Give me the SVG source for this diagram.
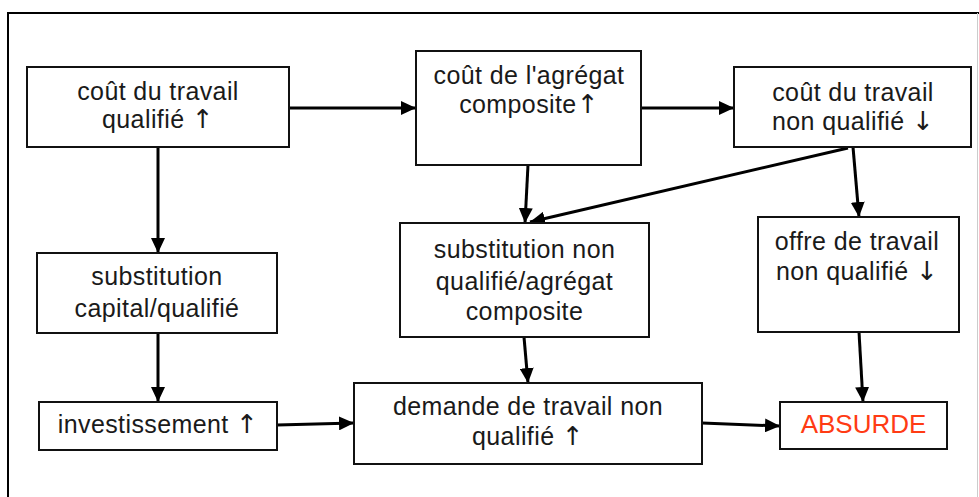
<svg xmlns="http://www.w3.org/2000/svg" width="979" height="497" viewBox="0 0 979 497">
  <defs>
    <marker id="arrow" markerUnits="userSpaceOnUse" markerWidth="15" markerHeight="14" refX="15" refY="7" orient="auto">
      <path d="M0,0 L15,7 L0,14 z" fill="#000"/>
    </marker>
    <style>
      .box { fill: #fff; stroke: #111; stroke-width: 2; }
      .lbl { font-family: "Liberation Sans", Arial, sans-serif; font-size: 25px; letter-spacing: 0.4px; fill: #1a1a1a; text-anchor: middle; }
      .sym { font-family: "DejaVu Sans", sans-serif; font-size: 26px; fill: #1a1a1a; }
      .red { fill: #ff3b14; font-size: 26px; letter-spacing: 0; }
      .conn line { stroke: #000; stroke-width: 3; marker-end: url(#arrow); }
    </style>
  </defs>

  <rect width="979" height="497" fill="#fff"/>

  <!-- outer frame -->
  <g id="frame" fill="none">
    <path d="M8,497 V13 H979" stroke="#000" stroke-width="2"/>
    <line x1="977.5" y1="13" x2="977.5" y2="497" stroke="#ccc" stroke-width="1"/>
  </g>

  <!-- connectors -->
  <g id="connectors" class="conn">
    <line x1="289" y1="108" x2="416" y2="108"/>
    <line x1="641" y1="108" x2="734" y2="108"/>
    <line x1="158" y1="147" x2="158" y2="253"/>
    <line x1="158" y1="333" x2="158" y2="402"/>
    <line x1="277" y1="425" x2="354" y2="423"/>
    <line x1="528" y1="165" x2="525" y2="223"/>
    <line x1="848" y1="148" x2="530" y2="222"/>
    <line x1="853" y1="147" x2="859" y2="217"/>
    <line x1="524" y1="337" x2="528" y2="383"/>
    <line x1="859" y1="332" x2="863" y2="402"/>
    <line x1="702" y1="423" x2="780" y2="426"/>
  </g>

  <g id="cout-qualifie">
    <rect class="box" x="27" y="67" width="262" height="80"/>
    <text class="lbl" x="158" y="100">coût du travail</text>
    <text class="lbl" x="158" y="128">qualifié <tspan class="sym">↑</tspan></text>
  </g>

  <g id="cout-agregat">
    <rect class="box" x="416" y="51" width="225" height="114"/>
    <text class="lbl" x="529" y="84">coût de l'agrégat</text>
    <text class="lbl" x="529" y="113">composite<tspan class="sym">↑</tspan></text>
  </g>

  <g id="cout-non-qualifie">
    <rect class="box" x="734" y="67" width="237" height="80"/>
    <text class="lbl" x="853" y="101">coût du travail</text>
    <text class="lbl" x="853" y="130">non qualifié <tspan class="sym">↓</tspan></text>
  </g>

  <g id="substitution-capital">
    <rect class="box" x="37" y="253" width="240" height="80"/>
    <text class="lbl" x="157" y="285">substitution</text>
    <text class="lbl" x="157" y="317">capital/qualifié</text>
  </g>

  <g id="substitution-non-qualifie">
    <rect class="box" x="400" y="223" width="249" height="114"/>
    <text class="lbl" x="524.5" y="258">substitution non</text>
    <text class="lbl" x="524.5" y="290">qualifié/agrégat</text>
    <text class="lbl" x="524.5" y="320">composite</text>
  </g>

  <g id="offre-travail">
    <rect class="box" x="758" y="217" width="201" height="115"/>
    <text class="lbl" x="857" y="250">offre de travail</text>
    <text class="lbl" x="857" y="280">non qualifié <tspan class="sym">↓</tspan></text>
  </g>

  <g id="investissement">
    <rect class="box" x="39" y="402" width="238" height="48"/>
    <text class="lbl" x="158" y="433">investissement <tspan class="sym">↑</tspan></text>
  </g>

  <g id="demande-travail">
    <rect class="box" x="354" y="383" width="348" height="81"/>
    <text class="lbl" x="528" y="415">demande de travail non</text>
    <text class="lbl" x="528" y="445">qualifié <tspan class="sym">↑</tspan></text>
  </g>

  <g id="absurde">
    <rect class="box" x="780" y="402" width="167" height="47"/>
    <text class="lbl red" x="863.5" y="433">ABSURDE</text>
  </g>
</svg>
